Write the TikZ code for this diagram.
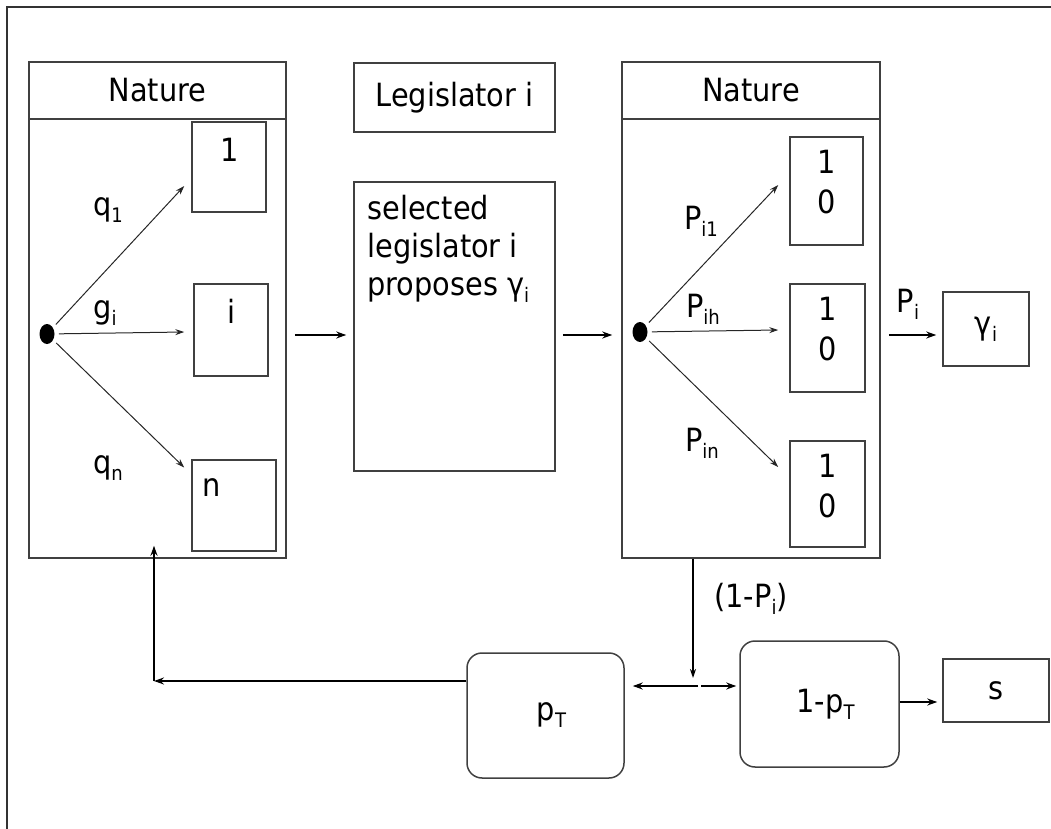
\documentclass[tikz,border=0pt]{standalone}
\usepackage{fontspec}
\setmainfont{DejaVu Sans Condensed}
\usepackage{tikz}
\usetikzlibrary{arrows.meta,positioning,shapes.geometric}
\newcommand{\subx}[1]{\raisebox{-3.5pt}{\fontsize{10}{10}\selectfont #1}}

\tikzset{
  box/.style={draw=black!75, line width=0.75pt, inner sep=0pt},
  rbox/.style={box, rounded corners=7.5pt},
  lbl/.style={inner sep=0pt},
  dot/.style={ellipse, fill=black, minimum width=7.5pt, minimum height=10pt, inner sep=0pt},
  branch/.style={-{Stealth[length=4.5pt,width=3pt]}, line width=0.5pt, black!85},
  flow/.style={-{Stealth[length=5pt,width=3.5pt]}, line width=1pt},
}

\begin{document}
\begin{tikzpicture}[x=0.5pt,y=-0.5pt,font=\fontsize{16}{19}\selectfont]
\useasboundingbox (0,0) rectangle (1051,829);
% frame
\draw[line width=0.75pt, black!80] (1051,7) -- (7,7) -- (7,829);

% first Nature
\node[box, minimum width=128.5pt, minimum height=219.5pt] (nat1b) at (157.5,338.5) {};
\node[box, minimum width=128.5pt, minimum height=28.5pt] (nat1h) at (157.5,90.5) {Nature};
\node[box, minimum width=37pt, minimum height=45pt] (c1) at (229,167) {};
\node[box, minimum width=37pt, minimum height=46pt] (ci) at (231,330) {};
\node[box, minimum width=42pt, minimum height=45.5pt] (cn) at (234,505.5) {};
\node[lbl] (c1t) at (230,150) {1};
\node[lbl] (cit) at (231,311) {i};
\node[lbl] (cnt) at (212,488) {n};
\node[dot] (dot1) at (47,334) {};
\node[lbl] (q1) at (108,210) {q\subx{1}};
\node[lbl] (gi) at (105,313) {g\subx{i}};
\node[lbl] (qn) at (108,468) {q\subx{n}};
\draw[branch, shorten <=2pt] (dot1) -- ([shift={(-3.5pt,-9.5pt)}]c1.west);
\draw[branch, shorten <=2pt] (dot1) -- ([shift={(-4.5pt,-1pt)}]ci.west);
\draw[branch, shorten <=2pt] (dot1) -- ([shift={(-3.5pt,19pt)}]cn.west);

% Legislator
\node[box, minimum width=100.5pt, minimum height=34.5pt] (lh) at (454.5,97.5) {\raisebox{2pt}{Legislator i}};
\node[box, minimum width=100.5pt, minimum height=144.5pt] (lb) at (454.5,326.5) {};
\node[lbl, anchor=north west, align=left] (lbt) at (367,195) {selected\\legislator i\\proposes γ\subx{i}};

% second Nature
\node[box, minimum width=129pt, minimum height=219.5pt] (nat2b) at (751,338.5) {};
\node[box, minimum width=129pt, minimum height=28.5pt] (nat2h) at (751,90.5) {Nature};
\node[box, minimum width=36.5pt, minimum height=54pt] (r1) at (826.5,191) {};
\node[box, minimum width=37.5pt, minimum height=54pt] (r2) at (827.5,338) {};
\node[box, minimum width=37.5pt, minimum height=53pt] (r3) at (827.5,494) {};
\node[lbl, align=center, font=\fontsize{16}{20}\selectfont] (r1t) at ([yshift=4.5pt]r1.center) {1\\0};
\node[lbl, align=center, font=\fontsize{16}{20}\selectfont] (r2t) at ([yshift=4.5pt]r2.center) {1\\0};
\node[lbl, align=center, font=\fontsize{16}{20}\selectfont] (r3t) at ([yshift=4pt]r3.center) {1\\0};
\node[dot] (dot2) at (640,332) {};
\node[lbl] (pi1) at (701,221) {P\subx{i1}};
\node[lbl] (pih) at (703,309) {P\subx{ih}};
\node[lbl] (pin) at (702,443) {P\subx{in}};
\draw[branch, shorten <=2pt] (dot2) -- ([shift={(-5.5pt,3pt)}]r1.west);
\draw[branch, shorten <=2pt] (dot2) -- ([shift={(-5.5pt,4pt)}]r2.west);
\draw[branch, shorten <=2pt] (dot2) -- ([shift={(-5.5pt,13.5pt)}]r3.west);

% outcome
\node[box, minimum width=43pt, minimum height=37pt] (gb) at (986,329) {\raisebox{2pt}{γ\subx{i}}};
\node[lbl] (pi) at (908,304) {P\subx{i}};

% lower row
\node[rbox, minimum width=78.5pt, minimum height=62.5pt] (pT) at (545.5,715.5) {\raisebox{2pt}{\hspace{6pt}p\subx{T}}};
\node[rbox, minimum width=79.5pt, minimum height=63pt] (qT) at (819.5,704) {\raisebox{-3pt}{\hspace{6pt}1-p\subx{T}}};
\node[box, minimum width=53pt, minimum height=31.5pt] (sb) at (996,690.5) {s};
\node[lbl] (npi) at (751,599) {(1-P\subx{i})};

% connectors
\coordinate (lvl) at (0,335);
\coordinate (split) at (693,686);
\coordinate (back) at (154,681);
\coordinate (qTout) at ([yshift=1pt]qT.east);
\draw[flow, shorten <=4pt, shorten >=3.5pt] (nat1b.east |- lvl) -- (lb.west |- lvl);
\draw[flow, shorten <=3.5pt, shorten >=4.5pt] (lb.east |- lvl) -- (nat2b.west |- lvl);
\draw[flow, shorten <=4pt, shorten >=3pt] (nat2b.east |- lvl) -- (gb.west |- lvl);
\draw[-{Stealth[length=4.5pt,width=3pt]}, line width=0.75pt] (nat2b.south -| split) -- ([yshift=4pt]split);
\draw[flow, shorten >=4pt] ([xshift=2.5pt]split) -- (pT.east |- split);
\draw[flow, shorten >=1.5pt] ([xshift=4pt]split) -- (qT.west |- split);
\draw[flow, shorten >=2.5pt] (qTout) -- (sb.west |- qTout);
\draw[flow] (pT.west |- back) -- (back);
\draw[flow] (back) -- ([yshift=6.5pt]back |- nat1b.south);
\end{tikzpicture}
\end{document}
